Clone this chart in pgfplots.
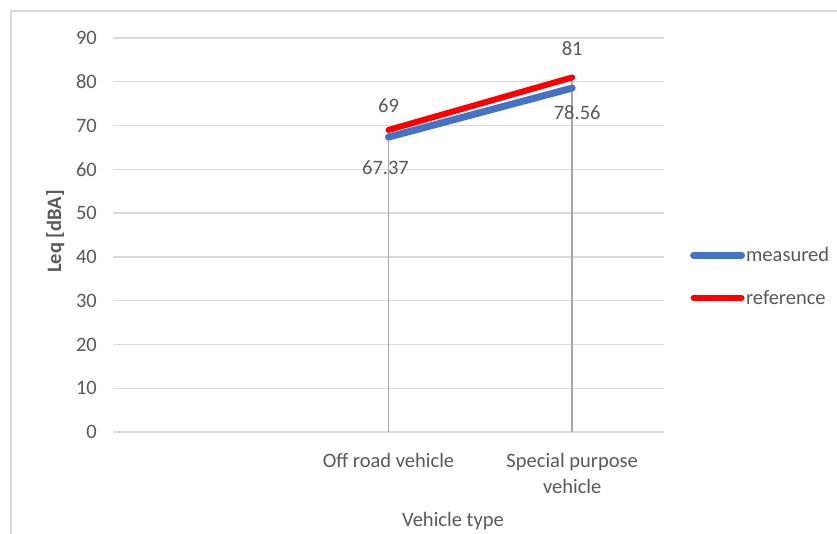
\documentclass[border=0pt]{standalone}
\usepackage{fontspec}
\setmainfont{Carlito}
\usepackage{pgfplots}
\pgfplotsset{compat=1.18}
\usepackage{pgfplotstable}

\definecolor{measblue}{HTML}{4472C4}
\definecolor{refred}{HTML}{FF0000}
\definecolor{gridgray}{HTML}{D9D9D9}
\definecolor{txtgray}{HTML}{595959}
\definecolor{dropgray}{HTML}{A6A6A6}

% x: category index, y: Leq, dx/dy: label offset from the point
\pgfplotstableread{
x y dx dy
1 67.37 -3 -31
2 78.56 5 -24
}\measured
\pgfplotstableread{
x y dx dy
1 69 0 24
2 81 0 29
}\reference

\begin{document}
\begin{tikzpicture}[x=1pt,y=1pt]
\useasboundingbox (0,0) rectangle (837,533);
% chart area frame
\draw[gridgray, line width=1.5pt] (11,-5) -- (11,522) -- (845,522);
\begin{axis}[
  at={(113pt,101pt)}, anchor=south west,
  scale only axis, width=551pt, height=394pt,
  xmin=-0.5, xmax=2.5, ymin=0, ymax=90,
  ytick={0,10,...,90},
  xtick={0,1,2},
  xticklabels={{}, {Off road vehicle}, {Special purpose\\vehicle}},
  axis line style={draw=none},
  tick style={draw=none},
  ymajorgrids, grid style={gridgray, line width=1.3pt},
  /pgf/number format/assume math mode=true,
  font=\fontsize{20.5}{26}\selectfont,
  ticklabel style={text=txtgray},
  yticklabel style={inner sep=0pt, xshift=-16pt},
  xticklabel style={align=center, inner sep=0pt, anchor=north, yshift=-21pt},
  xlabel={Vehicle type},
  xlabel style={at={(axis description cs:0.617,-0.226)}, anchor=center, text=txtgray},
  ylabel={\bfseries Leq [dBA]},
  ylabel style={at={(axis description cs:-0.105,0.509)}, anchor=center, text=txtgray},
  legend style={at={(axis description cs:1.047,0.474)}, anchor=north west,
    draw=none, fill=none, inner sep=0pt, row sep=23pt,
    nodes={inner xsep=1pt},
    font=\fontsize{20.5}{24}\selectfont, text=txtgray},
  legend cell align=left,
  legend image code/.code={\draw[#1, line cap=round] (0pt,0pt) -- (48pt,0pt);},
  clip=false,
]
% drop lines from the upper series
\addplot[dropgray, line width=1.5pt, ycomb, mark=none, forget plot] table[x=x, y=y] {\reference};
\addplot[measblue, line width=7pt, line cap=round, mark=none,
  nodes near coords={\pgfmathprintnumber[precision=2]{\pgfplotspointmeta}},
  point meta=explicit,
  visualization depends on={\thisrow{dx} \as \dx},
  visualization depends on={\thisrow{dy} \as \dy},
  every node near coord/.append style={anchor=center, xshift=\dx pt, yshift=\dy pt,
    text=txtgray, font=\fontsize{20.5}{24}\selectfont},
] table[x=x, y=y, meta=y] {\measured};
\addlegendentry{measured}
\addplot[refred, line width=6pt, line cap=round, mark=none,
  nodes near coords={\pgfmathprintnumber[precision=2]{\pgfplotspointmeta}},
  point meta=explicit,
  visualization depends on={\thisrow{dx} \as \dx},
  visualization depends on={\thisrow{dy} \as \dy},
  every node near coord/.append style={anchor=center, xshift=\dx pt, yshift=\dy pt,
    text=txtgray, font=\fontsize{20.5}{24}\selectfont},
] table[x=x, y=y, meta=y] {\reference};
\addlegendentry{reference}
\end{axis}
\end{tikzpicture}
\end{document}
